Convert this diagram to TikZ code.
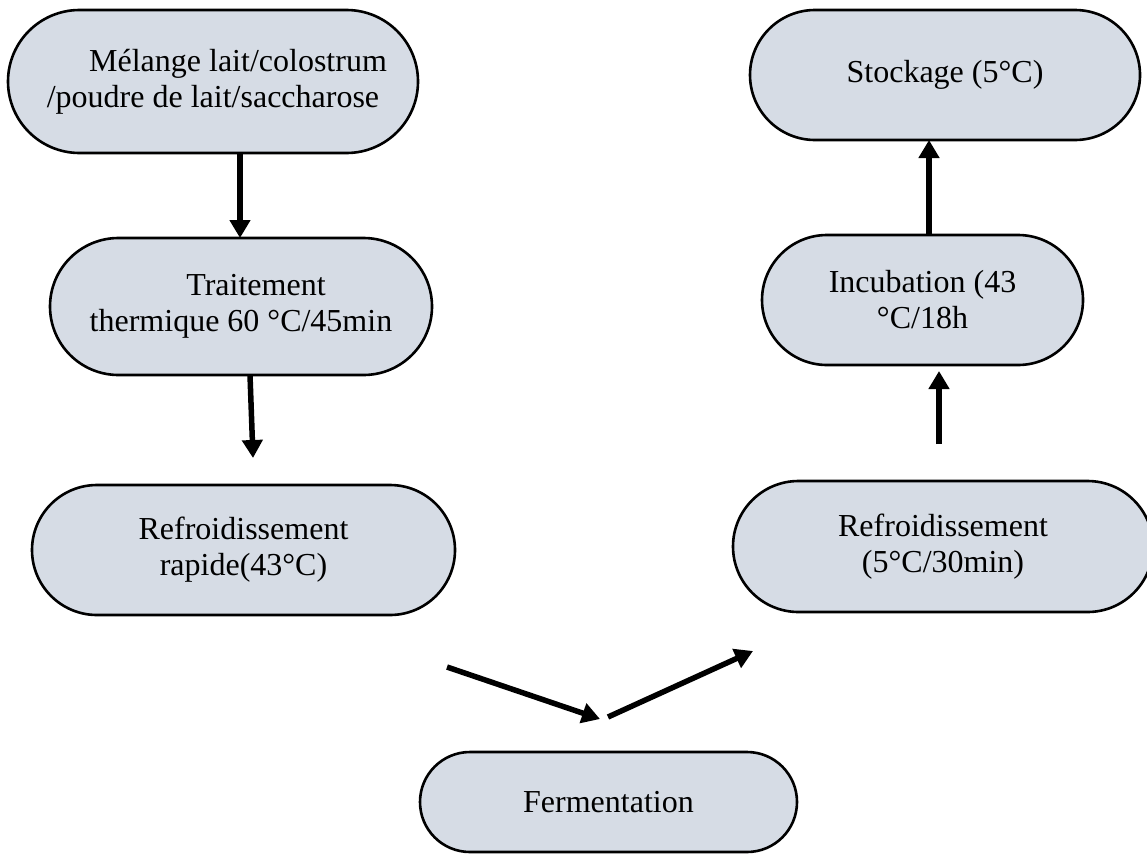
\documentclass[tikz,border=0pt]{standalone}
\usepackage{fontspec}
\setmainfont{Liberation Serif}
\usetikzlibrary{arrows.meta}
\definecolor{stagefill}{HTML}{D6DCE5}

\begin{document}
\begin{tikzpicture}[y=1pt, x=1pt, yscale=-1, inner sep=0pt, outer sep=0pt,
  stage/.style 2 args={draw=black, line width=2.6pt, fill=stagefill, align=center,
    font=\fontsize{32}{36}\selectfont, minimum width=#1, minimum height=#2,
    rounded corners=0.5*#2},
  flow/.style={draw=black, line width=5.5pt, -{Triangle[length=18pt,width=20pt]}}]
\useasboundingbox (0,0) rectangle (1147,854);
\node[stage={410pt}{143pt}] (melange) at (213,81.5)
  {\hspace*{50pt}Mélange lait/colostrum\\/poudre de lait/saccharose};
\node[stage={382pt}{137pt}] (traitement) at (241,306.5)
  {\hspace*{30pt}Traitement\\thermique 60 °C/45min};
\node[stage={423pt}{130pt}] (refrapide) at (243.5,550)
  {Refroidissement\\rapide(43°C)};
\node[stage={377pt}{100pt}] (fermentation) at (608.5,802) {Fermentation};
\node[stage={420pt}{131pt}] (refroid) at (943,546.5)
  {Refroidissement\\(5°C/30min)};
\node[stage={321pt}{130pt}] (incubation) at (922.5,300)
  {Incubation (43\\°C/18h};
\node[stage={390pt}{130pt}] (stockage) at (945,75) {Stockage (5°C)};
\coordinate (trtout) at (253,458);
\coordinate (refa) at (447,667);
\coordinate (fermin) at (600,719);
\coordinate (fermout) at (608,717);
\coordinate (refb) at (753,651);
\coordinate (incin) at (939,444);
\coordinate (inctip) at (939,371);
\draw[flow] ([xshift=27pt]melange.south) -- ([xshift=-1pt]traitement.north);
\draw[flow] ([xshift=9pt]traitement.south) -- (trtout);
\draw[flow] (refa) -- (fermin);
\draw[flow] (fermout) -- (refb);
\draw[flow] (incin) -- (inctip);
\draw[flow] ([xshift=6.5pt]incubation.north) -- ([xshift=-16pt]stockage.south);

\end{tikzpicture}
\end{document}
